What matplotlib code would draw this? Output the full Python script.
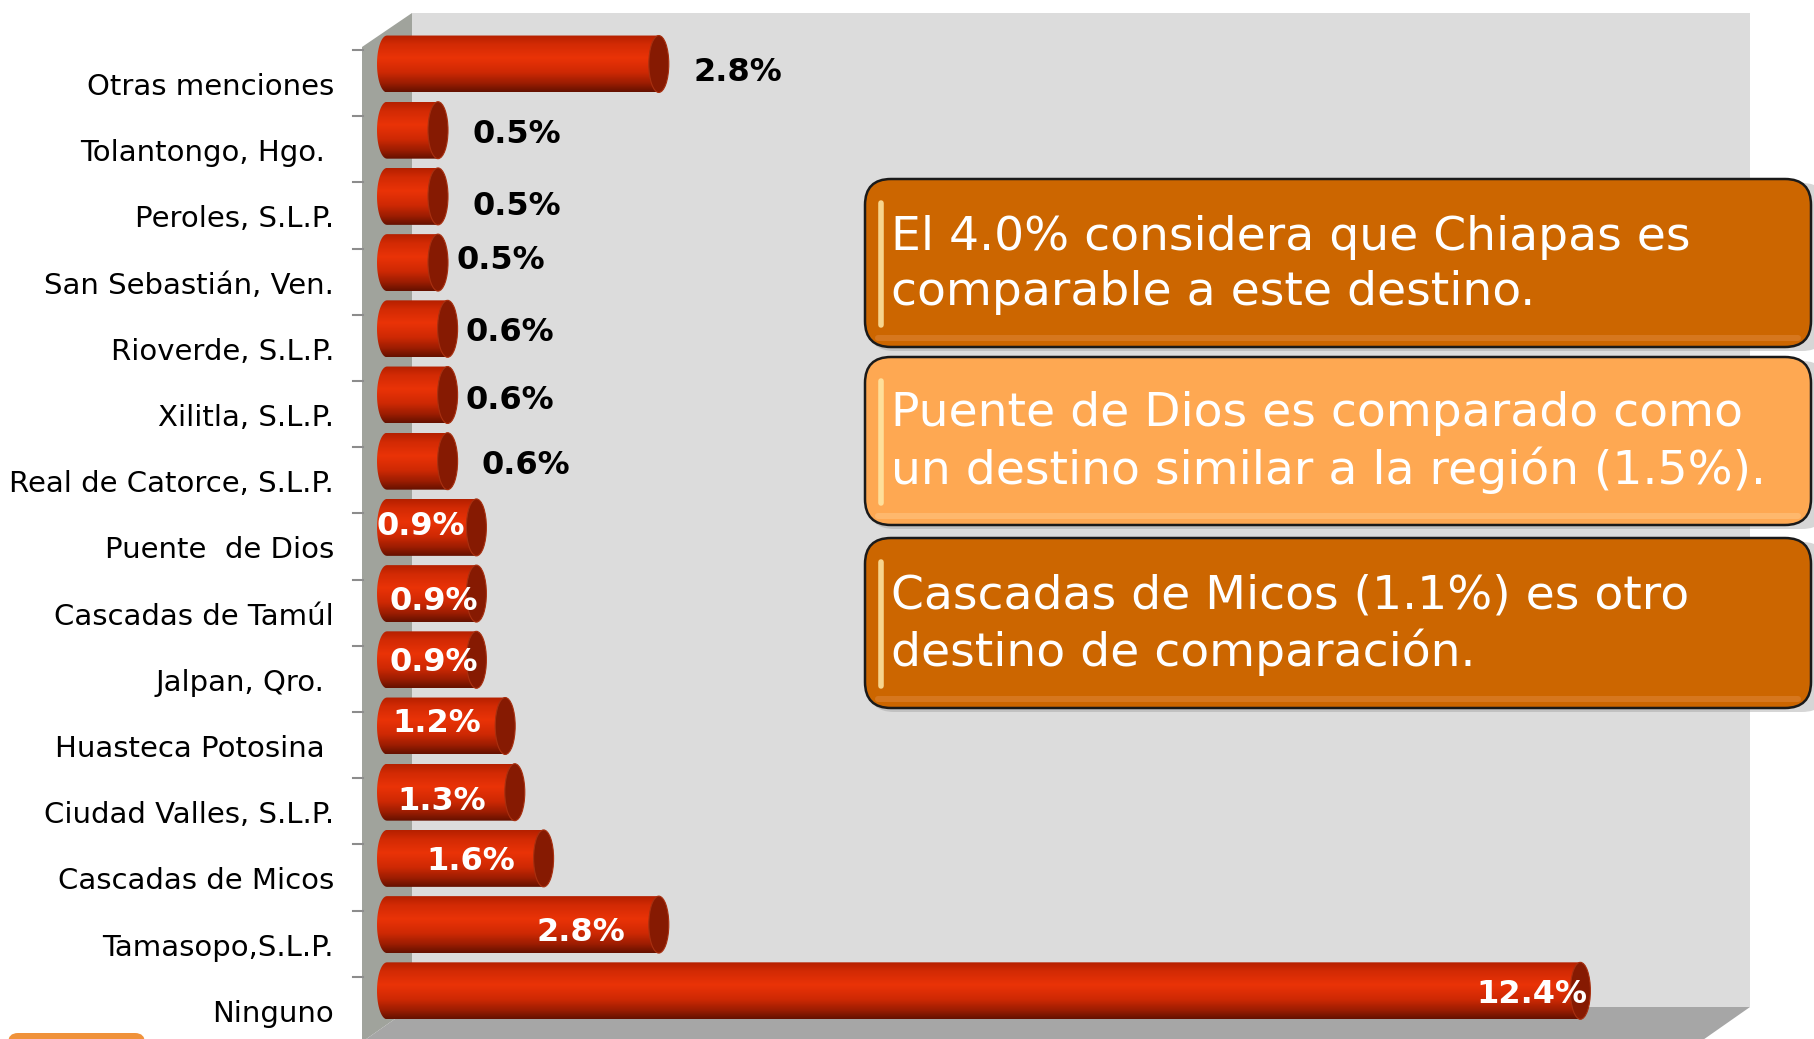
import numpy as np
import matplotlib
matplotlib.use("Agg")
import matplotlib.pyplot as plt
from matplotlib.colors import LinearSegmentedColormap
from matplotlib.patches import Polygon, FancyBboxPatch, Ellipse, PathPatch
from matplotlib.path import Path

# datos
destinos = ["Otras menciones", "Tolantongo, Hgo. ", "Peroles, S.L.P.", "San Sebastián, Ven.",
            "Rioverde, S.L.P.", "Xilitla, S.L.P.", "Real de Catorce, S.L.P.", "Puente  de Dios",
            "Cascadas de Tamúl", "Jalpan, Qro. ", "Huasteca Potosina ", "Ciudad Valles, S.L.P.",
            "Cascadas de Micos", "Tamasopo,S.L.P.", "Ninguno"]
porcentajes = [2.8, 0.5, 0.5, 0.5, 0.6, 0.6, 0.6, 0.9, 0.9, 0.9, 1.2, 1.3, 1.6, 2.8, 12.4]
etiquetas = ["2.8%", "0.5%", "0.5%", "0.5%", "0.6%", "0.6%", "0.6%", "0.9%", "0.9%", "0.9%",
             "1.2%", "1.3%", "1.6%", "2.8%", "12.4%"]
cuadros = ["El 4.0% considera que Chiapas es\ncomparable a este destino.",
           "Puente de Dios es comparado como\nun destino similar a la región (1.5%).",
           "Cascadas de Micos (1.1%) es otro\ndestino de comparación."]

# layout (pixeles)
W, H = 1814, 1039
x0_px, px_por_pct = 400, 96.0
y0_px, px_por_cat = 64, 66.2
# desplazamiento de cada etiqueta respecto al final de la barra (dx, dy hacia abajo)
ajuste = [(25, 9), (24, 4), (24, 10), (8, -2), (8, 4), (8, 6), (24, 4), (-21, -1),
          (-8, 8), (-8, 3), (-34, -2), (-39, 9), (-38, 3), (-44, 8), (-3, 4)]
n_fuera = 7

fig = plt.figure(figsize=(W / 100, H / 100), dpi=100)
fondo = fig.add_axes([0, 0, 1, 1], zorder=0)
fondo.set_xlim(0, W)
fondo.set_ylim(H, 0)
fondo.axis("off")

# caja 3D
fondo.add_patch(Polygon([(412, 13), (1750, 13), (1750, 1007), (412, 1007)], closed=True,
                        facecolor="#DCDCDC", edgecolor="none"))
fondo.add_patch(Polygon([(362, 47), (412, 13), (412, 1007), (362, 1042)], closed=True,
                        facecolor="#A0A39C", edgecolor="none"))
fondo.add_patch(Polygon([(412, 1007), (1750, 1007), (1700, 1042), (362, 1042)], closed=True,
                        facecolor="#A6A6A6", edgecolor="none"))

ax = fig.add_axes([0, 0, 1, 1], zorder=1)
ax.patch.set_alpha(0)
ax.axis("off")
xlim = (-x0_px / px_por_pct, (W - x0_px) / px_por_pct)
ylim = ((H - y0_px) / px_por_cat, -y0_px / px_por_cat)

y = np.arange(len(destinos))
barras = ax.barh(y, porcentajes, height=0.86, color="none")

cmap = LinearSegmentedColormap.from_list("cil", [
    (0.0, "#B52000"), (0.15, "#D22A04"), (0.4, "#EA3307"), (0.65, "#CF2904"),
    (0.85, "#9C1D02"), (1.0, "#661100")])
grad = np.linspace(0, 1, 64).reshape(-1, 1)
media = 10 / px_por_pct  # medio ancho de la elipse de la punta

for rect in barras:
    bx, by = rect.get_x(), rect.get_y()
    bw, bh = rect.get_width(), rect.get_height()
    xi = bx - 13 / px_por_pct
    xf = bx + bw - media
    verts = [(xi, by), (xf, by), (xf, by + bh), (xi, by + bh)]
    t = np.linspace(np.pi / 2, 3 * np.pi / 2, 30)
    arco = [(xi - media * abs(np.cos(a)), by + bh / 2 - bh / 2 * np.sin(a)) for a in t]
    verts = verts + arco + [(xi, by)]
    clip = PathPatch(Path(verts), facecolor="none", edgecolor="none", transform=ax.transData)
    ax.add_patch(clip)
    im = ax.imshow(grad, cmap=cmap, aspect="auto", extent=(xi - media, xf, by + bh, by),
                   interpolation="bilinear", zorder=2)
    im.set_clip_path(clip)
    ax.add_patch(Ellipse((xf, by + bh / 2), 2 * media, bh, facecolor="#861A02",
                         edgecolor="#A83010", lw=0.8, zorder=3))

# marcas del eje
for k in range(len(destinos)):
    yk = k + (50 - y0_px) / px_por_cat
    ax.plot([(353 - x0_px) / px_por_pct, (363 - x0_px) / px_por_pct], [yk, yk],
            color="#8C8C8C", lw=1.5, zorder=1)

# nombres de categorias
for i, nombre in enumerate(destinos):
    ax.text((334 - x0_px) / px_por_pct, i + 23 / px_por_cat, nombre, ha="right", va="center",
            fontsize=21, color="black", family="DejaVu Sans")

# etiquetas de valor
for i, (v, txt) in enumerate(zip(porcentajes, etiquetas)):
    dx, dy = ajuste[i]
    fuera = i < n_fuera
    ax.annotate(txt, xy=(v, i), xytext=(dx, -dy), textcoords="offset pixels",
                ha="left" if fuera else "right", va="center", fontsize=23,
                fontweight="bold", color="black" if fuera else "white", zorder=5)

ax.set_xlim(*xlim)
ax.set_ylim(*ylim)

# cuadros de texto
frente = fig.add_axes([0, 0, 1, 1], zorder=2)
frente.set_xlim(0, W)
frente.set_ylim(H, 0)
frente.axis("off")
cajas = [(865, 179, 168, "#CC6600", "#E0883C"), (865, 357, 168, "#FEA852", "#FFC888"),
         (865, 538, 170, "#CC6600", "#E0883C")]
for (cx, cy, ch, col, brillo), texto in zip(cajas, cuadros):
    frente.add_patch(FancyBboxPatch((cx + 3, cy + 4), 960, ch, boxstyle="round,pad=0,rounding_size=26",
                                    facecolor="#9A9A9A", edgecolor="none", alpha=0.4))
    frente.add_patch(FancyBboxPatch((cx, cy), 946, ch, boxstyle="round,pad=0,rounding_size=26",
                                    facecolor=col, edgecolor="#1A1A1A", lw=1.8))
    frente.add_patch(FancyBboxPatch((cx + 10, cy + ch - 12), 926, 6,
                                    boxstyle="round,pad=0,rounding_size=3",
                                    facecolor=brillo, edgecolor="none", alpha=0.5))
    frente.plot([cx + 16, cx + 16], [cy + 24, cy + ch - 22], color="#FFE9A8", lw=4,
                solid_capstyle="round", alpha=0.85)
    frente.text(cx + 26, cy + ch / 2 + 2, texto, ha="left", va="center", fontsize=34,
                color="white", linespacing=1.28, family="DejaVu Sans")

# forma naranja abajo a la izquierda
frente.add_patch(FancyBboxPatch((8, 1033), 137, 40, boxstyle="round,pad=0,rounding_size=10",
                                facecolor="#F0923A", edgecolor="none"))

fig.savefig("out.png", dpi=100)
